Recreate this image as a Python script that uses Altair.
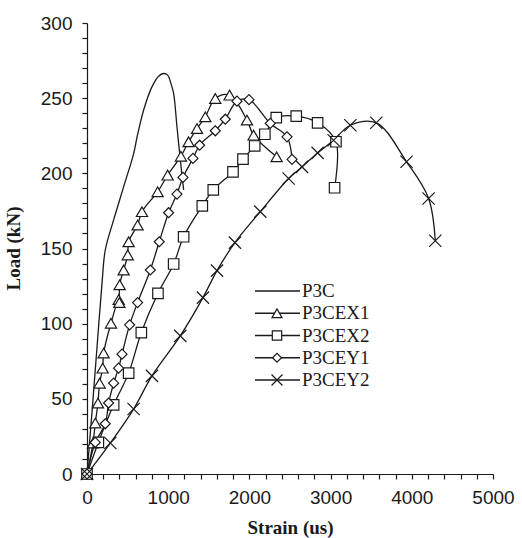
import altair as alt
import pandas as pd

series_names = ["P3C", "P3CEX1", "P3CEX2", "P3CEY1", "P3CEY2"]

p3c_strain = [0, 60, 120, 185, 225, 328, 451, 574, 616, 697, 800, 882, 943, 993, 1034, 1067, 1108, 1149, 1190]
p3c_load = [0, 40, 82, 127, 149, 169, 191, 213, 224, 242, 257.5, 264.6, 266.4, 265.3, 259.7, 253, 231, 209, 189]

p3cex1_strain = [0, 74, 102, 135, 155, 193, 205, 295, 390, 398, 402, 451, 502, 513, 623, 677, 870, 993, 1157,
                 1251, 1355, 1457, 1580, 1756, 1970, 2052, 2335]
p3cex1_load = [0, 20.6, 33.9, 47.2, 60.4, 70.4, 80.4, 100.3, 116, 114, 125.8, 135.7, 145.7, 154.5, 165.6, 174.5,
               187.7, 198.8, 211.4, 221, 229.8, 237.6, 249.8, 252, 235.4, 225.4, 211]

p3cex2_strain = [0, 140, 328, 513, 669, 874, 1067, 1190, 1420, 1555, 1798, 1921, 2065, 2190, 2331, 2577, 2840,
                 3066, 3049]
p3cex2_load = [0, 21, 46, 67.1, 94.1, 120.2, 139.7, 157.8, 178.4, 189, 201, 209.5, 218.2, 226, 237, 238, 233.6,
               221, 190.4]

p3cey1_strain = [0, 102, 225, 266, 328, 389, 431, 525, 623, 780, 890, 1005, 1108, 1182, 1305, 1387, 1580, 1703,
                 1847, 1995, 2257, 2463, 2525]
p3cey1_load = [0, 21, 33.4, 47.2, 60.4, 70.4, 79.7, 99.2, 114, 135.7, 154.5, 173.8, 186.2, 197.3, 209.9, 218.7,
               228.3, 236, 248, 249, 233.2, 224.3, 209.3]

p3cey2_strain = [0, 287, 574, 800, 1149, 1428, 1601, 1822, 2134, 2483, 2648, 2840, 3037, 3243, 3563, 3935, 4207,
                 4289]
p3cey2_load = [0, 20.6, 43.2, 65.3, 91.9, 117.3, 135.3, 153.9, 174.5, 196.6, 204.3, 213.6, 222, 232, 233.6, 207.7,
               183.3, 155.2]

x_tick_values = list(range(0, 5001, 200))
y_tick_values = list(range(0, 301, 10))

series_data = {
    "P3C": (p3c_strain, p3c_load),
    "P3CEX1": (p3cex1_strain, p3cex1_load),
    "P3CEX2": (p3cex2_strain, p3cex2_load),
    "P3CEY1": (p3cey1_strain, p3cey1_load),
    "P3CEY2": (p3cey2_strain, p3cey2_load),
}

rows = []
for name in series_names:
    xs, ys = series_data[name]
    for i, (xv, yv) in enumerate(zip(xs, ys)):
        rows.append({"series": name, "strain": xv, "load": yv, "idx": i})
df = pd.DataFrame(rows)

INK = "#1a1a1a"
X_PATH = "M-1,-1L1,1M-1,1L1,-1"
marker_style = {
    "P3CEX1": dict(shape="triangle-up", size=125),
    "P3CEX2": dict(shape="square", size=110),
    "P3CEY1": dict(shape="diamond", size=100),
    "P3CEY2": dict(shape=X_PATH, size=150),
}

x_axis = alt.Axis(
    values=x_tick_values, format="d",
    labelExpr="datum.value % 1000 == 0 ? datum.label : ''",
    title="Strain (us)", grid=False, tickSize=5, labelPadding=9,
    labelFont="Liberation Sans", labelFontSize=19, labelColor=INK,
    labelOverlap=False, labelFlush=False,
    titleFont="Liberation Serif", titleFontWeight="bold", titleFontSize=19, titleColor=INK,
    titleY=53, titleBaseline="middle",
    domainColor=INK, tickColor=INK, domainWidth=1.2, tickWidth=1.2,
)
y_axis = alt.Axis(
    values=y_tick_values, format="d",
    labelExpr="datum.value % 50 == 0 ? datum.label : ''",
    title="Load (kN)", grid=False, tickSize=5, labelPadding=10,
    labelFont="Liberation Sans", labelFontSize=19, labelColor=INK,
    labelOverlap=False, labelFlush=False,
    titleFont="Liberation Serif", titleFontWeight="bold", titleFontSize=19, titleColor=INK,
    titleX=-74, titleY=225, titleBaseline="middle", titleAngle=-90,
    domainColor=INK, tickColor=INK, domainWidth=1.2, tickWidth=1.2,
)

x_enc = alt.X("strain:Q", scale=alt.Scale(domain=[0, 5000], nice=False), axis=x_axis)
y_enc = alt.Y("load:Q", scale=alt.Scale(domain=[0, 300], nice=False), axis=y_axis)

base = alt.Chart(df)
lines = base.mark_line(interpolate="catmull-rom", strokeWidth=1.3, color=INK).encode(
    x=x_enc, y=y_enc, detail="series:N", order="idx:Q"
)

point_layers = []
for name in series_names[1:]:
    st = marker_style[name]
    point_layers.append(
        base.transform_filter(alt.datum.series == name)
        .mark_point(shape=st["shape"], size=st["size"], filled=False, fill="white", fillOpacity=1,
                    stroke=INK, strokeWidth=1.2, opacity=1)
        .encode(x=x_enc, y=y_enc)
    )

main = alt.layer(lines, *point_layers)

# Legend (manual, inside plot)
legend_df = pd.DataFrame({"label": series_names})
leg_y = alt.Y("label:N", scale=alt.Scale(type="point", domain=series_names, range=[268, 357], padding=0),
              axis=None)
leg_base = alt.Chart(legend_df)
leg_rule = leg_base.mark_rule(strokeWidth=1.3, color=INK).encode(
    x=alt.value(168), x2=alt.value(213), y=leg_y
)
leg_pts = []
for name in series_names[1:]:
    st = marker_style[name]
    leg_pts.append(
        leg_base.transform_filter(alt.datum.label == name)
        .mark_point(shape=st["shape"], size=st["size"] * 0.8, filled=False, fill="white", fillOpacity=1,
                    stroke=INK, strokeWidth=1.2, opacity=1)
        .encode(x=alt.value(190), y=leg_y)
    )
leg_text = leg_base.mark_text(align="left", baseline="middle", font="Liberation Serif", fontSize=19,
                              color=INK).encode(x=alt.value(215), y=leg_y, text="label:N")
legend = alt.layer(leg_rule, *leg_pts, leg_text)

chart = (
    alt.layer(main, legend)
    .resolve_scale(y="independent")
    .properties(
        width=406, height=451,
        autosize=alt.AutoSizeParams(type="none"),
        padding={"left": 87, "top": 23, "right": 29, "bottom": 64},
        background="white",
    )
    .configure_view(stroke=None)
)

chart.save("out.html", embed_options={"renderer": "svg", "actions": False})
